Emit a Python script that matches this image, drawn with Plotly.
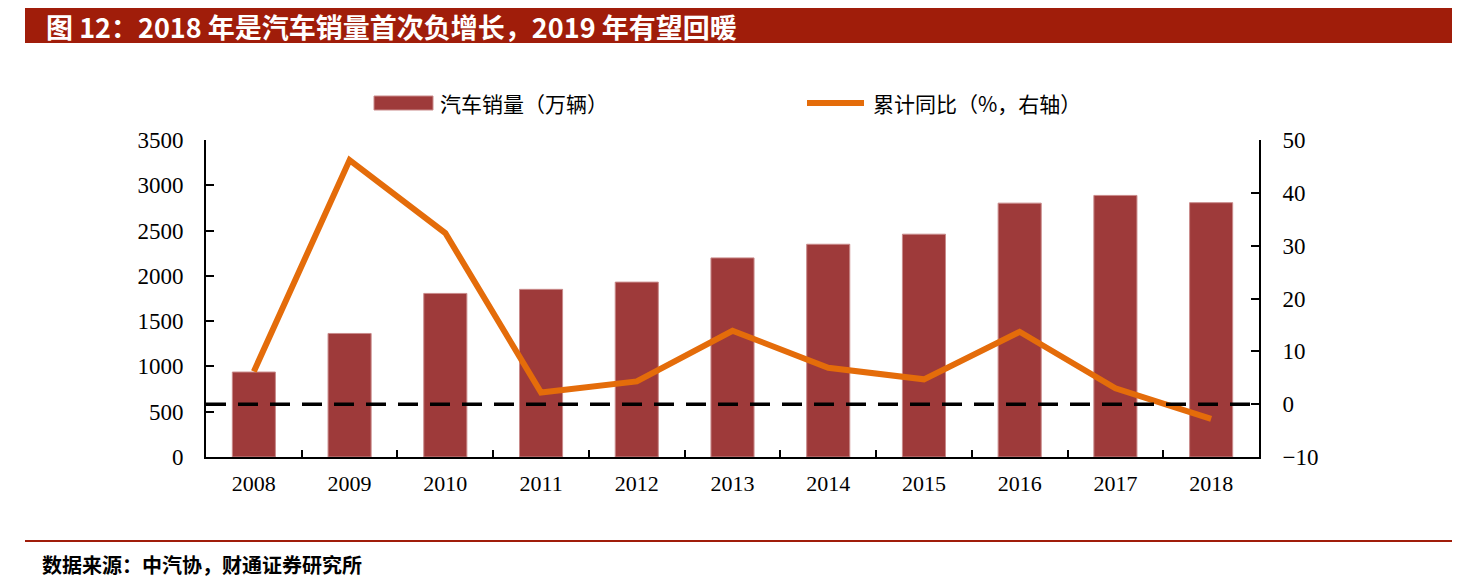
import plotly.graph_objects as go

years = ["2008", "2009", "2010", "2011", "2012", "2013", "2014", "2015", "2016", "2017", "2018"]
sales = [938, 1364, 1806, 1851, 1931, 2198, 2349, 2460, 2803, 2888, 2808]
growth = [6.2, 46.2, 32.4, 2.2, 4.3, 13.9, 6.9, 4.7, 13.7, 3.0, -2.8]
left_ticks = [0, 500, 1000, 1500, 2000, 2500, 3000, 3500]
right_ticks = [-10, 0, 10, 20, 30, 40, 50]

# The page body has an 8px margin, so the figure is drawn 8px smaller and
# all reference pixel positions are shifted by 8px.
OFF = 8
W, H = 1470 - OFF, 578 - OFF
L, R, T, B = 206 - OFF, 1259 - OFF, 140 - OFF, 457 - OFF

def px(x):
    return (x - OFF - L) / (R - L)

def py(y):
    return (B - (y - OFF)) / (B - T)

BAR = "#9E3A3A"
LINE = "#E46C0A"
RED = "#A01D0A"
SERIF = "Liberation Serif, Times New Roman, serif"
CJK = "Noto Sans CJK SC"

fig = go.Figure()
fig.add_trace(go.Bar(x=years, y=sales, marker=dict(color=BAR, line=dict(color="#C98A8A", width=1)),
                     width=0.45, name="汽车销量（万辆）", showlegend=False))
fig.add_trace(go.Scatter(x=years, y=growth, yaxis="y2", mode="lines",
                         line=dict(color=LINE, width=6), name="累计同比（%，右轴）", showlegend=False))

shapes = [
    dict(type="line", xref="paper", yref="y2", x0=0, x1=1, y0=0, y1=0,
         line=dict(color="black", width=3.5, dash="20px,12px"), layer="above"),
    dict(type="rect", xref="paper", yref="paper", x0=px(25), x1=px(1452), y0=py(43), y1=py(OFF),
         fillcolor=RED, line=dict(width=0), layer="below"),
    dict(type="line", xref="paper", yref="paper", x0=px(25), x1=px(1452), y0=py(541), y1=py(541),
         line=dict(color=RED, width=2)),
    dict(type="rect", xref="paper", yref="paper", x0=px(374), x1=px(433), y0=py(110), y1=py(96),
         fillcolor=BAR, line=dict(color="#C98A8A", width=1)),
    dict(type="line", xref="paper", yref="paper", x0=px(807), x1=px(864), y0=py(103), y1=py(103),
         line=dict(color=LINE, width=6)),
]

annotations = [
    dict(text="<b>图 12：2018 年是汽车销量首次负增长，2019 年有望回暖</b>", xref="paper", yref="paper",
         x=px(44), y=py(26), xanchor="left", yanchor="middle", showarrow=False,
         font=dict(family=CJK, size=27, color="white")),
    dict(text="汽车销量（万辆）", xref="paper", yref="paper", x=px(438), y=py(103),
         xanchor="left", yanchor="middle", showarrow=False, font=dict(family=CJK, size=21, color="black")),
    dict(text="累计同比（%，右轴）", xref="paper", yref="paper", x=px(871), y=py(103),
         xanchor="left", yanchor="middle", showarrow=False, font=dict(family=CJK, size=21, color="black")),
    dict(text="<b>数据来源：中汽协，财通证券研究所</b>", xref="paper", yref="paper", x=px(40), y=py(564),
         xanchor="left", yanchor="middle", showarrow=False, font=dict(family=CJK, size=20, color="black")),
]

fig.update_layout(
    width=W, height=H,
    margin=dict(l=L, r=W - R, t=T, b=H - B, pad=0),
    paper_bgcolor="white", plot_bgcolor="white",
    shapes=shapes, annotations=annotations,
    xaxis=dict(type="category", showline=True, linecolor="black", linewidth=2,
               ticks="inside", tickson="boundaries", ticklen=7, tickwidth=2, tickcolor="black",
               tickfont=dict(family=SERIF, size=22, color="black"), showgrid=False, zeroline=False,
               ticklabelstandoff=6),
    yaxis=dict(range=[0, 3500], tickvals=left_ticks, showline=True, linecolor="black", linewidth=2,
               ticks="inside", ticklen=8, tickwidth=2, tickcolor="black", showgrid=False, zeroline=False,
               tickfont=dict(family=SERIF, size=23, color="black"), ticklabelstandoff=16),
    yaxis2=dict(range=[-10, 50], tickvals=right_ticks, overlaying="y", side="right",
                showline=True, linecolor="black", linewidth=2,
                ticks="inside", ticklen=8, tickwidth=2, tickcolor="black", showgrid=False, zeroline=False,
                tickfont=dict(family=SERIF, size=23, color="black"), ticklabelstandoff=17,
                tickformat="d"),
    showlegend=False,
)

fig.write_html("out.html")
